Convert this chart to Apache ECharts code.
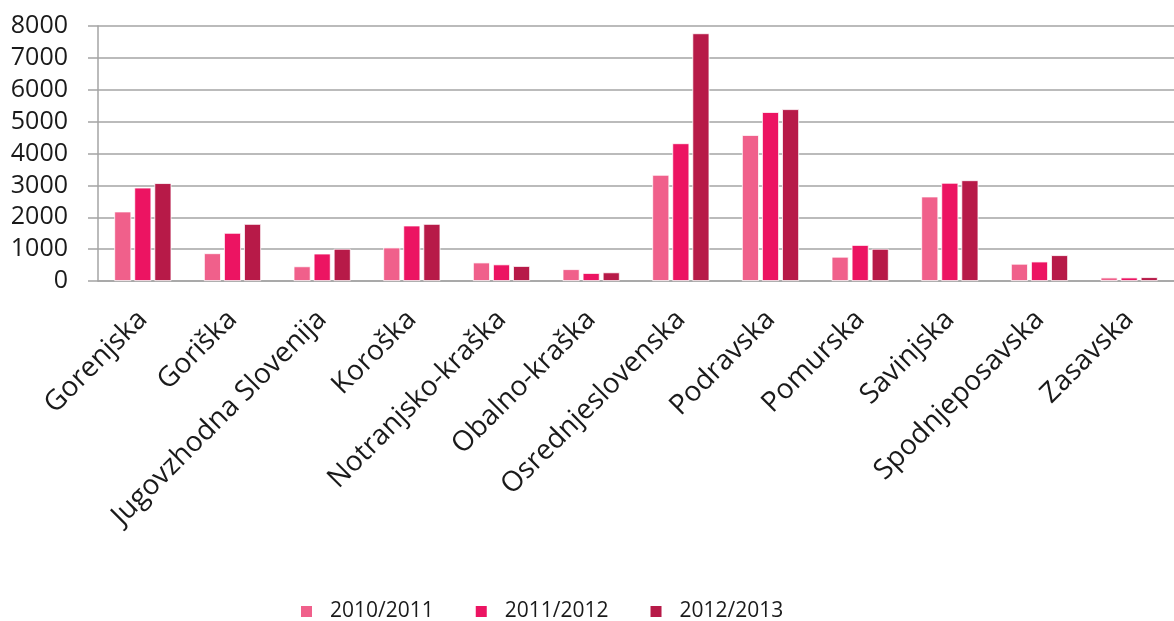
<!DOCTYPE html>
<html>
<head>
<meta charset="utf-8">
<script src="https://cdn.jsdelivr.net/npm/echarts@6/dist/echarts.min.js"></script>
<style>
  html, body { margin: 0; padding: 0; background: #fff; }
  #main { width: 1174px; height: 621px; }
</style>
</head>
<body>
<div id="main"></div>
<script type="text/javascript">
    // regije
    var regions = ['Gorenjska', 'Goriška', 'Jugovzhodna Slovenija', 'Koroška', 'Notranjsko-kraška',
                   'Obalno-kraška', 'Osrednjeslovenska', 'Podravska', 'Pomurska', 'Savinjska',
                   'Spodnjeposavska', 'Zasavska'];
    var years = ['2010/2011', '2011/2012', '2012/2013'];

    var y2010 = [2180, 870, 460, 1050, 580, 370, 3330, 4580, 760, 2650, 540, 110];
    var y2011 = [2930, 1510, 860, 1740, 520, 250, 4320, 5300, 1130, 3080, 610, 110];
    var y2012 = [3070, 1790, 1010, 1790, 470, 270, 7770, 5390, 1010, 3160, 810, 120];

    var colors = ['#f0608b', '#ec1462', '#b71a48'];
    var font = 'Open Sans';

    var myChart = echarts.init(document.getElementById('main'));

    function makeSeries(name, data, i) {
        return {
            name: name,
            type: 'bar',
            data: data,
            barWidth: 17,
            barGap: '18%',
            itemStyle: { color: colors[i], borderColor: '#fff', borderWidth: 0.8 }
        };
    }

    var option = {
        animation: false,
        color: colors,
        grid: { left: 98, top: 26, bottom: 340, width: 1088 },
        legend: {
            left: 294,
            top: 596,
            itemWidth: 13,
            itemHeight: 13,
            itemGap: 40,
            icon: 'rect',
            textStyle: { fontFamily: font, fontSize: 21, color: '#1a1a1a', padding: [0, 0, 0, 12] },
            data: years
        },
        xAxis: {
            type: 'category',
            data: regions,
            axisLine: { lineStyle: { color: '#a4a4a4', width: 1.5 } },
            axisTick: { length: 10, lineStyle: { color: '#a4a4a4', width: 1.5 } },
            axisLabel: {
                rotate: 45,
                margin: 34,
                interval: 0,
                fontFamily: font,
                fontSize: 28,
                color: '#1a1a1a'
            }
        },
        yAxis: {
            type: 'value',
            min: 0,
            max: 8000,
            interval: 1000,
            axisLine: { show: true, lineStyle: { color: '#a4a4a4', width: 1.5 } },
            axisTick: { show: true, length: 10, lineStyle: { color: '#a4a4a4', width: 1.5 } },
            splitLine: { lineStyle: { color: '#a4a4a4', width: 1.5 } },
            axisLabel: {
                margin: 30,
                fontFamily: font,
                fontSize: 25,
                color: '#1a1a1a',
                formatter: function (v) { return String(v); }
            }
        },
        series: [
            makeSeries(years[0], y2010, 0),
            makeSeries(years[1], y2011, 1),
            makeSeries(years[2], y2012, 2)
        ]
    };
    myChart.setOption(option);
</script>
</body>
</html>
